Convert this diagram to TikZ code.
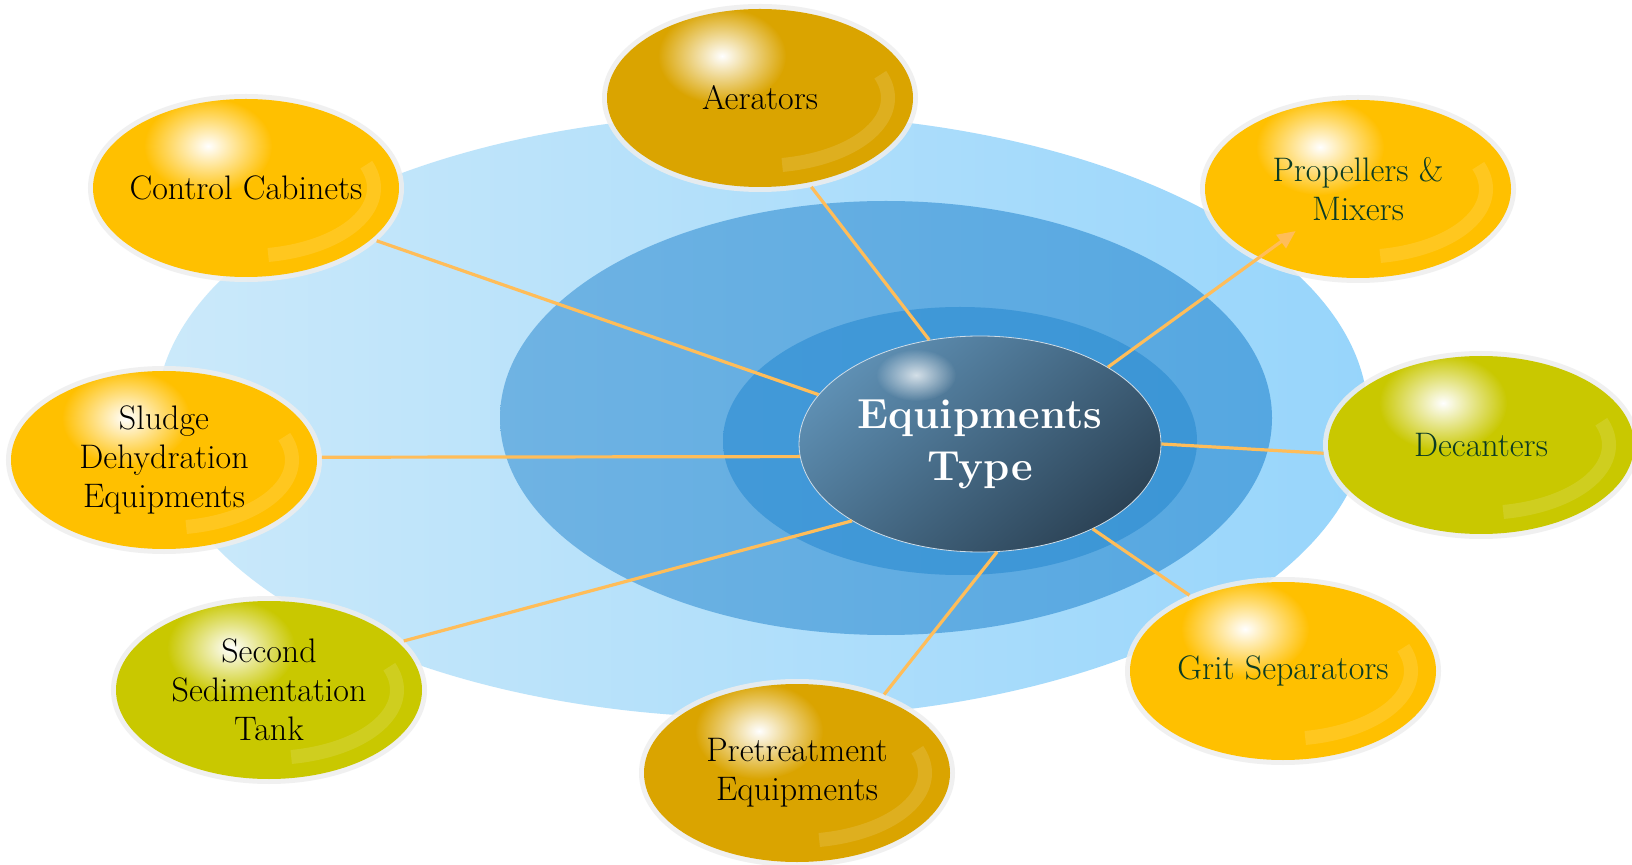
\documentclass[tikz,border=0pt]{standalone}
\usetikzlibrary{shapes.geometric,calc,fadings,arrows.meta}
\definecolor{gold}{HTML}{FFC000}
\definecolor{dgold}{HTML}{DAA400}
\definecolor{limey}{HTML}{C9C800}
\definecolor{dgreen}{HTML}{0B3B24}
\definecolor{connc}{HTML}{FFBD59}
\definecolor{haloc}{HTML}{EEEEEE}
\definecolor{outL}{HTML}{CBE9FA}
\definecolor{outR}{HTML}{97D5FB}
\definecolor{midL}{HTML}{6FB3E3}
\definecolor{midR}{HTML}{55A7E1}
\definecolor{innL}{HTML}{4299D8}
\definecolor{innR}{HTML}{3C96D6}
\definecolor{cenA}{HTML}{5E8FB3}
\definecolor{cenB}{HTML}{2C4356}
\tikzfading[name=glowfade, inner color=transparent!0, outer color=transparent!100]
\begin{document}
\begin{tikzpicture}[x=0.5pt,y=-0.5pt,
  sat/.style={ellipse, fill=#1, minimum width=153pt, minimum height=89pt,
    inner xsep=-25pt, inner ysep=-12pt, outer sep=2.5pt, align=center,
    font=\fontsize{17}{19.5}\selectfont,
    preaction={draw=haloc, draw opacity=0.85, line width=5pt},
    path picture={
      \coordinate (ppc) at (path picture bounding box.center);
      \fill[white, path fading=glowfade] ($(ppc)+(-38,-42)$) ellipse [x radius=32pt, y radius=24pt];
      \draw[white, opacity=0.12, line width=7pt] ($(ppc)+(-80:64pt and 34pt)$) arc[start angle=-80, end angle=20, x radius=64pt, y radius=34pt];
    }},
  connector/.style={draw=connc, line width=1.6pt},
  blackt/.style={text=black},
  greent/.style={text=dgreen},
]
\useasboundingbox (0,0) rectangle (1632,865);
\fill[white] (0,0) rectangle (1632,865);

% concentric background
\shade[left color=outL, right color=outR] (762,416) ellipse [x radius=303pt, y radius=151pt];
\shade[left color=midL, right color=midR] (886,418) ellipse [x radius=193pt, y radius=108.5pt];
\shade[left color=innL, right color=innR] (960,441) ellipse [x radius=118.5pt, y radius=67pt];

% satellites
\node[sat=dgold, blackt] (aer) at (760,98) {Aerators};
\node[sat=gold, blackt] (ctrl) at (246,188) {Control Cabinets};
\node[sat=gold, greent] (prop) at (1358,189) {Propellers \&\\Mixers};
\node[sat=limey, greent] (dec) at (1481,445) {Decanters};
\node[sat=gold, blackt] (sludge) at (164,460) {Sludge\\Dehydration\\Equipments};
\node[sat=limey, blackt] (sec) at (269,690) {Second\\Sedimentation\\Tank};
\node[sat=dgold, blackt] (pre) at (797,773) {Pretreatment\\Equipments};
\node[sat=gold, greent] (grit) at (1283,671) {Grit Separators};

% centre
\node[ellipse, minimum width=181pt, minimum height=108pt, inner sep=0pt,
  top color=cenA, bottom color=cenB, shading angle=40,
  draw=white!70!cenA, line width=0.4pt,
  align=center, text=white, font=\fontsize{21}{26}\selectfont\bfseries] (center) at (980,444) {Equipments\\Type};
\fill[white, opacity=0.75, path fading=glowfade] ($(center.center)+(-64,-69)$) ellipse [x radius=20pt, y radius=13pt];

% connectors
\draw[connector] (center.116) -- (aer.-60);
\draw[connector] (center.163.6) -- (ctrl.-22.4);
\draw[connector, -{Triangle[length=9pt, width=8pt]}] (center.31) -- ($(prop.center)!0.165!(center.center)$);
\draw[connector] (center.0) -- (dec.183);
\draw[connector] (center.184) -- (sludge.1);
\draw[connector] (center.211) -- (sec.20.7);
\draw[connector] (center.-81) -- (pre.42.4);
\draw[connector] (center.-37.5) -- (grit.141.3);
\end{tikzpicture}
\end{document}
